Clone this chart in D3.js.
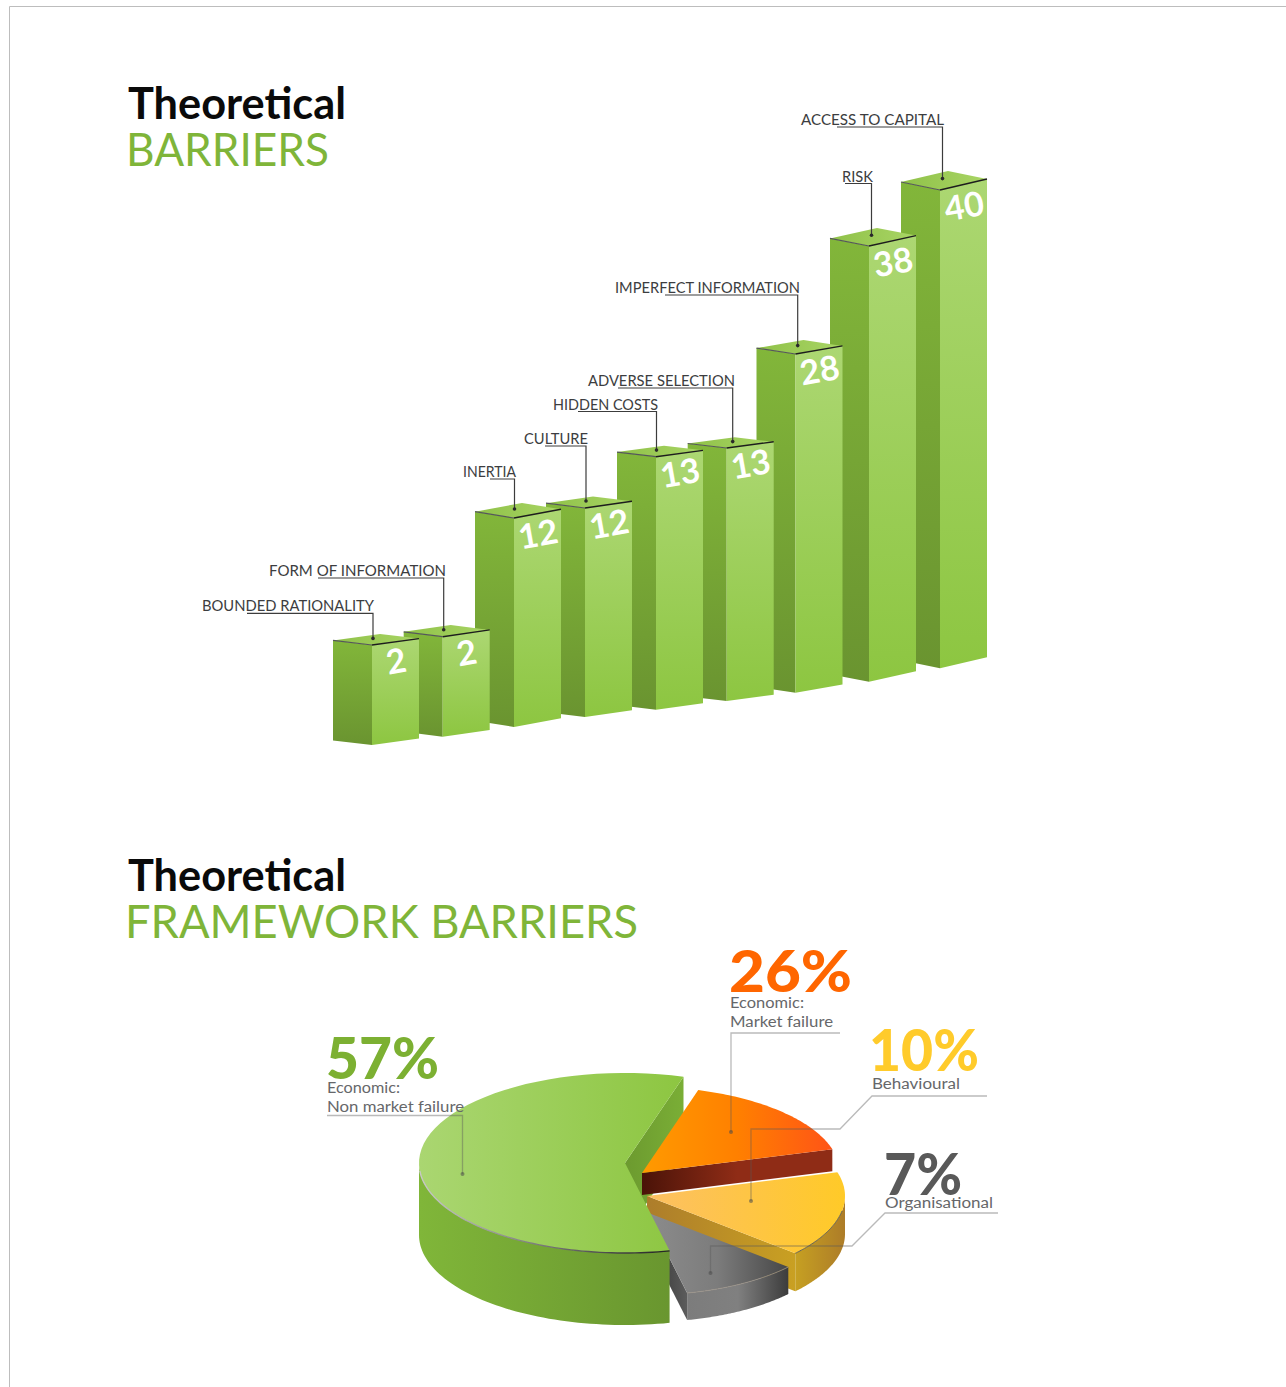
<!DOCTYPE html>
<html>
<head>
<meta charset="utf-8">
<script src="https://cdn.jsdelivr.net/npm/d3@7"></script>
<style>
  html, body { margin: 0; padding: 0; background: #fff; }
  svg { display: block; }
  text { font-family: Lato, "Open Sans", sans-serif; }
</style>
</head>
<body>
<svg id="chart" width="1286" height="1387"></svg>
<script>
// Barrier counts
const barNames = ["BOUNDED RATIONALITY", "FORM OF INFORMATION", "INERTIA", "CULTURE", "HIDDEN COSTS",
  "ADVERSE SELECTION", "IMPERFECT INFORMATION", "RISK", "ACCESS TO CAPITAL"];
const barValues = [2, 2, 12, 12, 13, 13, 28, 38, 40];

// Framework shares
const wedgeKeys = ["nonMarket", "market", "behavioural", "organisational"];
const wedgeValues = [57, 26, 10, 7];
const wedgeCaptions = [["Economic:", "Non market failure"], ["Economic:", "Market failure"], ["Behavioural"], ["Organisational"]];
const wedgeInk = ["#7cb032", "#ff6600", "#ffcb2b", "#595959"];

const svg = d3.select("#chart");
const defs = svg.append("defs");

function gradient(id, stops, vertical) {
  const g = defs.append("linearGradient").attr("id", id)
    .attr("x1", 0).attr("y1", 0)
    .attr("x2", vertical ? 0 : 1).attr("y2", vertical ? 1 : 0);
  stops.forEach((c, i) => g.append("stop").attr("offset", i / (stops.length - 1)).attr("stop-color", c));
}
gradient("barLeft", ["#82b63a", "#6a9430"], true);
gradient("barRight", ["#acd772", "#8dc641"], true);
gradient("barTop", ["#8fc148", "#a9d565"], false);
gradient("greenTop", ["#aad671", "#8dc641"], false);
gradient("greenOuter", ["#80b639", "#69962f"], false);
gradient("greenCut", ["#6c9a2f", "#7aae36"], false);
gradient("greenRim", ["#c8c8c8", "#777777", "#222222"], false);
gradient("orangeTop", ["#ff9a00", "#ff8000", "#ff5416"], false);
gradient("orangeCut", ["#4a1308", "#8f2c16", "#8f2c16"], false);
gradient("yellowTop", ["#fdc063", "#ffca28"], false);
gradient("yellowCut", ["#ad7d2b", "#c9a022"], false);
gradient("yellowOuter", ["#c6a022", "#ad7c28"], false);
gradient("grayTop", ["#8c8c8c", "#7c7c7c", "#474747"], false);
gradient("grayOuter", ["#7c7c7c", "#808080", "#3c3c3c"], false);
gradient("grayCut", ["#303030", "#5c5c5c"], false);

// Page frame
svg.append("path").attr("d", d3.line()([[9.5, 1387], [9.5, 6.5], [1286, 6.5]]))
  .attr("fill", "none").attr("stroke", "#bdbdbd").attr("stroke-width", 1);

// Section headings
function heading(text, y, size, weight, fill, x, width) {
  svg.append("text").text(text).attr("x", x).attr("y", y)
    .attr("font-size", size).attr("font-weight", weight).attr("fill", fill)
    .attr("textLength", width).attr("lengthAdjust", "spacingAndGlyphs");
}
heading("Theoretical", 118.5, 44, 700, "#0a0a0a", 128, 218);
heading("BARRIERS", 165.5, 47, 400, "#7fb539", 126, 203);
heading("Theoretical", 891, 44, 700, "#0a0a0a", 128, 218);
heading("FRAMEWORK BARRIERS", 938, 47, 400, "#7fb539", 125, 513);

/* ---------- stepped 3D columns ---------- */
const stepX = d3.scaleLinear().domain(d3.range(9)).range([372, 442.7, 514, 585, 656, 726.7, 795.5, 869, 940]);
const baseY = d3.scaleLinear().domain(d3.range(9)).range([745, 736.7, 727, 717, 709.7, 701, 692.7, 681.7, 668.3]);
const columnHeight = d3.scaleLinear().domain([2, 12, 13, 28, 38, 40]).range([100, 209, 253, 338.7, 435.7, 478.3]);
const backTilt = d3.scaleLinear().domain(d3.range(9)).range([11, 11.7, 15, 11.6, 11, 10.7, 14, 18, 19]);
const halfLeft = 39, halfRight = 47, backShift = 8;

const labelStart = [202, 269, 463, 524, 553, 588, 615, 842, 801];
const labelWidth = [172, 177, 53, 64, 105, 147, 185, 31, 143];
const ruleStart = [247, 318, 490, 545, 578, 618, 665, 845, 837];
const ruleY = [613.3, 578, 479, 446, 411.5, 388, 295, 183.5, 127];
const pinShift = [1, 1, 0.5, 1, 0.5, 6, 2.2, 2.5, 2.5];

const rows = barNames.map((name, i) => {
  const x = stepX(i), base = baseY(i), top = base - columnHeight(barValues[i]), db = backTilt(i);
  return { name, i, x, base, top, value: barValues[i], db, dl: db * 0.42, dr: db * 0.58, pinX: x + pinShift[i] };
});
const poly = d3.line();
const columns = svg.append("g").selectAll("g").data(rows.slice().reverse()).join("g");

columns.append("path").attr("fill", "url(#barLeft)").attr("d", d => poly([
  [d.x - halfLeft, d.top - d.dl], [d.x, d.top], [d.x, d.base], [d.x - halfLeft, d.base - d.dl]]) + "Z");
columns.append("path").attr("fill", "url(#barRight)").attr("d", d => poly([
  [d.x, d.top], [d.x + halfRight, d.top - d.dr], [d.x + halfRight, d.base - d.dr], [d.x, d.base]]) + "Z");
columns.append("path").attr("fill", "url(#barTop)").attr("d", d => poly([
  [d.x - halfLeft, d.top - d.dl], [d.x + backShift, d.top - d.db], [d.x + halfRight, d.top - d.dr], [d.x, d.top]]) + "Z");
columns.append("path").attr("fill", "none").attr("stroke", "#55575a").attr("stroke-width", 1.2)
  .attr("d", d => poly([[d.x - halfLeft, d.top - d.dl], [d.x, d.top]]));
columns.append("path").attr("fill", "none").attr("stroke", "#1d1d1d").attr("stroke-width", 1.4)
  .attr("d", d => poly([[d.x, d.top], [d.x + halfRight, d.top - d.dr]]));
columns.append("text").text(d => d.value)
  .attr("transform", d => `translate(${d.x + 24},${d.top + 16}) rotate(-10)`)
  .attr("text-anchor", "middle").attr("dy", "0.36em")
  .attr("font-size", 34).attr("font-weight", 700).attr("fill", "#fff");

// Column callouts sit above every column
const callouts = svg.append("g").selectAll("g").data(rows).join("g");
callouts.append("path").attr("fill", "none").attr("stroke", "#3c3c3c").attr("stroke-width", 1.2)
  .attr("d", d => poly([[ruleStart[d.i], ruleY[d.i]], [d.pinX, ruleY[d.i]], [d.pinX, d.top - d.db * 0.6]]));
callouts.append("circle").attr("r", 1.8).attr("fill", "#2a2a2a")
  .attr("cx", d => d.pinX).attr("cy", d => d.top - d.db * 0.6);
callouts.append("text").text(d => d.name)
  .attr("x", d => labelStart[d.i]).attr("y", d => ruleY[d.i] - 2)
  .attr("font-size", 15.5).attr("fill", "#3c3d40")
  .attr("textLength", d => labelWidth[d.i]).attr("lengthAdjust", "spacingAndGlyphs");

/* ---------- exploded 3D pie ---------- */
const deg = Math.PI / 180;
const squash = 90 / 206;
const sweep = d3.scaleLinear().domain([7, 10, 26, 57]).range([36, 57.5, 57.5, 209]);
const pieAngles = d3.pie().value(sweep).sort(null)
  .startAngle(167.5 * deg).endAngle((167.5 + 360) * deg)(wedgeValues);

const seat = {
  nonMarket: { cx: 625, cy: 1163, r: 206, depth: 72 },
  market: { cx: 642, cy: 1173, r: 198, depth: 22 },
  behavioural: { cx: 647, cy: 1196, r: 198, depth: 38 },
  organisational: { cx: 646, cy: 1212, r: 190, depth: 27 }
};
// Wedges past the first lap are brought back to the 0-360 degree range
const wedges = Object.fromEntries(wedgeKeys.map((k, i) => {
  const lap = i === 0 ? 0 : 2 * Math.PI;
  return [k, { ...seat[k], a0: pieAngles[i].startAngle - lap, a1: pieAngles[i].endAngle - lap }];
}));

const rimPoint = (w, a, drop = 0) => [w.cx + w.r * Math.sin(a), w.cy - w.r * squash * Math.cos(a) + drop];
const arcPoints = (w, a0, a1, drop = 0) => d3.range(0, 61).map(k => rimPoint(w, a0 + (a1 - a0) * k / 60, drop));

const pieLayer = svg.append("g");
const drawPath = (pts, fill) => pieLayer.append("path").attr("d", poly(pts) + "Z").attr("fill", fill);

function topFace(w, fill) { drawPath([[w.cx, w.cy], ...arcPoints(w, w.a0, w.a1)], fill); }
function outerWall(w, a0, a1, fill) {
  drawPath([...arcPoints(w, a0, a1), ...arcPoints(w, a1, a0, w.depth)], fill);
}
function cutFace(w, a, fill) {
  const p = rimPoint(w, a);
  drawPath([[w.cx, w.cy], p, [p[0], p[1] + w.depth], [w.cx, w.cy + w.depth]], fill);
}
function rimLine(w, a0, a1, stroke, width) {
  pieLayer.append("path").attr("d", poly(arcPoints(w, a0, a1))).attr("fill", "none")
    .attr("stroke", stroke).attr("stroke-width", width);
}

const g = wedges.nonMarket, o = wedges.market, y = wedges.behavioural, k = wedges.organisational;
cutFace(g, g.a1, "url(#greenCut)");
cutFace(o, o.a1, "url(#orangeCut)");
topFace(o, "url(#orangeTop)");
cutFace(y, y.a1, "url(#yellowCut)");
outerWall(y, 90 * deg, y.a1, "url(#yellowOuter)");
topFace(y, "url(#yellowTop)");
rimLine(y, 100 * deg, y.a1, "#5c5a50", 1);
cutFace(k, k.a1, "url(#grayCut)");
outerWall(k, k.a0, k.a1, "url(#grayOuter)");
topFace(k, "url(#grayTop)");
rimLine(k, k.a0, k.a1, "#9a9286", 0.8);
outerWall(g, g.a0, 270 * deg, "url(#greenOuter)");
topFace(g, "url(#greenTop)");
rimLine(g, g.a0, 265 * deg, "url(#greenRim)", 1.4);

// Share figures with their captions and leader lines
const figureAt = [
  { x: 326, y: 1079, w: 113, cap: [1093, 1112], capW: [73, 137] },
  { x: 729, y: 992, w: 123, cap: [1008, 1027], capW: [74, 103] },
  { x: 869, y: 1071, w: 110, cap: [1089], capW: [88] },
  { x: 884, y: 1195, w: 78, cap: [1208], capW: [108] }
];
const leaderRoutes = [
  [[327, 1115.5], [462.5, 1115.5], [462.5, 1174]],
  [[840, 1033], [731, 1033], [731, 1132]],
  [[987, 1096], [872, 1096], [840, 1129], [751, 1129], [751, 1201]],
  [[998, 1213], [885, 1213], [852, 1246], [710.5, 1246], [710.5, 1273]]
];
const leaders = svg.append("g");
leaderRoutes.forEach(route => {
  leaders.append("path").attr("d", poly(route)).attr("fill", "none")
    .attr("stroke", "#5a5a5a").attr("stroke-opacity", 0.42).attr("stroke-width", 1.3);
  const end = route[route.length - 1];
  leaders.append("circle").attr("cx", end[0]).attr("cy", end[1]).attr("r", 2)
    .attr("fill", "#4a4a4a").attr("fill-opacity", 0.55);
});

wedgeValues.forEach((v, i) => {
  const f = figureAt[i];
  svg.append("text").text(v + "%").attr("x", f.x).attr("y", f.y)
    .attr("font-size", 57).attr("font-weight", 900).attr("fill", wedgeInk[i])
    .attr("textLength", f.w).attr("lengthAdjust", "spacingAndGlyphs");
  wedgeCaptions[i].forEach((line, j) => {
    svg.append("text").text(line).attr("x", f.x + (i === 2 ? 3 : 1)).attr("y", f.cap[j])
      .attr("font-size", 15.5).attr("fill", "#66676a")
      .attr("textLength", f.capW[j]).attr("lengthAdjust", "spacingAndGlyphs");
  });
});
</script>
</body>
</html>
